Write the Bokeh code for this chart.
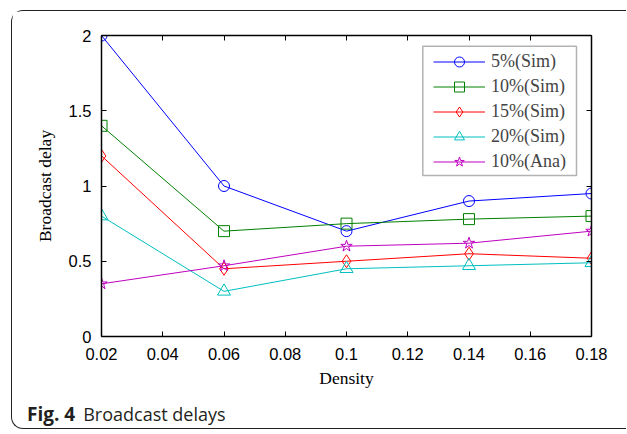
import numpy as np
from bokeh.plotting import figure
from bokeh.layouts import column
from bokeh.models import (FixedTicker, LinearAxis, Range1d, BoxAnnotation, Legend, Div)
from bokeh.embed import file_html
from bokeh.resources import INLINE

# ---- data ----
density = [0.02, 0.06, 0.10, 0.14, 0.18]
sim5 = [2.00, 1.00, 0.70, 0.90, 0.95]
sim10 = [1.40, 0.70, 0.75, 0.78, 0.80]
sim15 = [1.20, 0.45, 0.50, 0.55, 0.52]
sim20 = [0.80, 0.30, 0.45, 0.47, 0.49]
ana10 = [0.35, 0.47, 0.60, 0.62, 0.70]

series_labels = ["5%(Sim)", "10%(Sim)", "15%(Sim)", "20%(Sim)", "10%(Ana)"]
x_ticks = [0.02, 0.04, 0.06, 0.08, 0.10, 0.12, 0.14, 0.16, 0.18]
x_tick_labels = ["0.02", "0.04", "0.06", "0.08", "0.1", "0.12", "0.14", "0.16", "0.18"]
y_ticks = [0, 0.5, 1, 1.5, 2]
y_tick_labels = ["0", "0.5", "1", "1.5", "2"]

x_title = "Density"
y_title = "Broadcast delay"
caption_bold = "Fig. 4"
caption_rest = "Broadcast delays"

SERIF = "Liberation Serif"
SANS = "Liberation Sans"

p = figure(width=614, height=387, output_backend="svg", toolbar_location=None,
           x_range=Range1d(0.02, 0.18), y_range=Range1d(0, 2),
           min_border_left=89, min_border_right=35, min_border_top=24, min_border_bottom=62,
           x_axis_label=x_title, y_axis_label=y_title)
p.xgrid.visible = False
p.ygrid.visible = False
p.outline_line_color = None
p.background_fill_color = "white"
p.border_fill_color = "white"

def style_axis(ax, ticks, labels, show_labels=True):
    ax.ticker = FixedTicker(ticks=ticks)
    ax.major_label_overrides = {t: l for t, l in zip(ticks, labels)}
    ax.minor_tick_line_color = None
    ax.major_tick_in = 5
    ax.major_tick_out = 0
    ax.major_tick_line_color = "black"
    ax.major_tick_line_width = 1
    ax.axis_line_color = "black"
    ax.axis_line_width = 1.5
    ax.major_label_text_font = SANS
    ax.major_label_text_font_size = "16.5px"
    ax.major_label_text_color = "black" if show_labels else None
    ax.axis_label_text_font = SERIF
    ax.axis_label_text_font_size = "17.5px"
    ax.axis_label_text_font_style = "normal"
    ax.axis_label_text_color = "black"

style_axis(p.xaxis[0], x_ticks, x_tick_labels)
style_axis(p.yaxis[0], y_ticks, y_tick_labels)
p.xaxis[0].major_label_standoff = 11
p.xaxis[0].axis_label_standoff = 5
p.yaxis[0].major_label_standoff = 10
p.yaxis[0].axis_label_standoff = 11

top_ax = LinearAxis()
style_axis(top_ax, x_ticks, x_tick_labels, show_labels=False)
p.add_layout(top_ax, "above")
right_ax = LinearAxis()
style_axis(right_ax, y_ticks, y_tick_labels, show_labels=False)
p.add_layout(right_ax, "right")

colors = ["#0000ff", "#008000", "#ff0000", "#00bfbf", "#bf00bf"]
series = [sim5, sim10, sim15, sim20, ana10]
markers = [("circle", 11), ("square", 11), ("diamond", 13), ("triangle", 13), ("star", 12)]

items = []
for vals, col, (mk, sz), lab in zip(series, colors, markers, series_labels):
    r1 = p.line(density, vals, line_color=col, line_width=1)
    r2 = p.scatter(density, vals, marker=mk, size=sz,
                   line_color=col, fill_color=None, line_width=1)
    items.append((lab, [r1, r2]))

# legend box
p.add_layout(BoxAnnotation(left=321.3, right=475, top=290.3, bottom=161,
                           left_units="screen", right_units="screen",
                           top_units="screen", bottom_units="screen",
                           fill_color="white", fill_alpha=1, line_color="black", line_width=1.5))

legend = Legend(items=items, location=(332, 162), padding=0, margin=0, spacing=0,
                glyph_width=52, glyph_height=25, label_height=25, label_standoff=6,
                label_text_font=SERIF, label_text_font_size="18px",
                border_line_alpha=0, background_fill_alpha=0)
p.add_layout(legend, "center")

caption = Div(text=f'<div style="padding-top:1px"><span style="margin-left:15px;font-weight:bold;font-size:19px">{caption_bold}</span>'
                   f'<span style="margin-left:8px">{caption_rest}</span></div>',
              width=614, height=30, margin=0,
              styles={"font-family": "Open Sans", "font-size": "18px", "line-height": "30px",
                      "color": "#231f20", "white-space": "nowrap"})

layout = column(p, caption, spacing=0, margin=(10, 0, 0, 11),
                styles={"border-top": "1.5px solid #222222", "border-left": "1.5px solid #222222",
                        "border-bottom": "1.5px solid #222222", "border-radius": "12px 0 0 12px",
                        "background-color": "white"})

open("out.html", "w").write(file_html(layout, INLINE))
